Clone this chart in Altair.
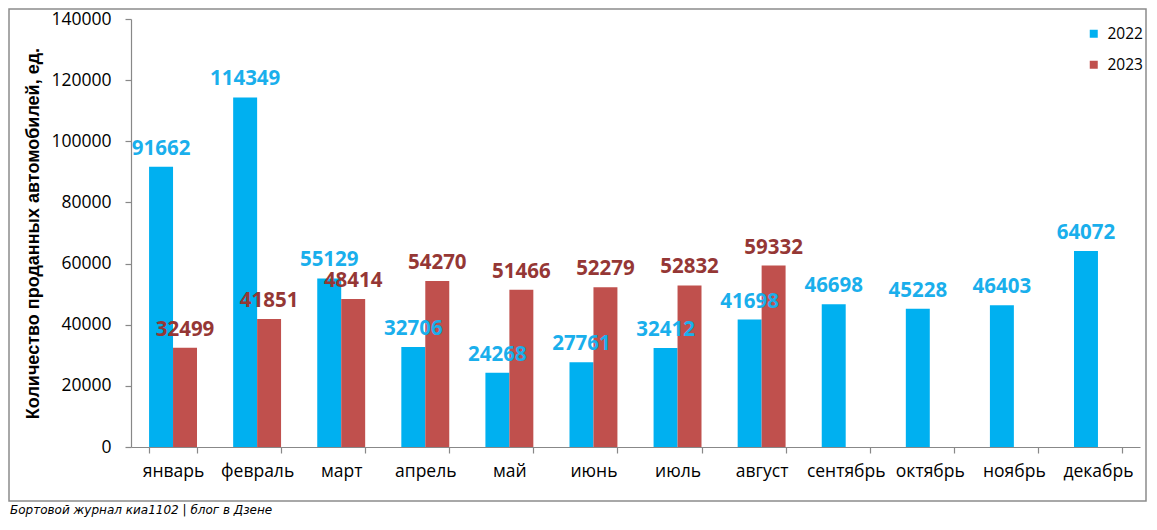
import altair as alt
import pandas as pd

months = ["январь", "февраль", "март", "апрель", "май", "июнь", "июль",
          "август", "сентябрь", "октябрь", "ноябрь", "декабрь"]
sales_2022 = [91662, 114349, 55129, 32706, 24268, 27761, 32412, 41698,
              46698, 45228, 46403, 64072]
sales_2023 = [32499, 41851, 48414, 54270, 51466, 52279, 52832, 59332]
years = ["2022", "2023"]
bar_colors = ["#00B0F0", "#C0504D"]
label_colors = ["#1AAFEC", "#953735"]
y_title = "Количество проданных  автомобилей, ед."
footer = "Бортовой журнал киа1102 | блог в Дзене"

rows = []
for m, v in zip(months, sales_2022):
    rows.append({"month": m, "year": "2022", "value": v})
for m, v in zip(months, sales_2023):
    rows.append({"month": m, "year": "2023", "value": v})
df = pd.DataFrame(rows)

W, H = 1009, 428

x_enc = alt.X(
    "month:N", sort=months,
    scale=alt.Scale(paddingInner=0.43, paddingOuter=0.215),
    axis=alt.Axis(title=None, labelAngle=0, tickBand="extent", tickSize=6,
                  labelPadding=9, labelFontSize=17.5, labelFont="Open Sans",
                  labelColor="#000000", domainColor="#888888", tickColor="#888888",
                  domainWidth=1.2, tickWidth=1.2),
)
xo_enc = alt.XOffset("year:N", scale=alt.Scale(domain=years, paddingInner=0, paddingOuter=0))
y_enc = alt.Y(
    "value:Q",
    scale=alt.Scale(domain=[0, 140000]),
    axis=alt.Axis(values=list(range(0, 140001, 20000)), format="d", grid=False,
                  title=y_title, titleFont="Liberation Sans", titleFontSize=18,
                  titleFontWeight="bold", titleColor="#000000", titlePadding=8,
                  labelFontSize=17.5, labelFont="Open Sans", labelColor="#000000",
                  labelPadding=14, tickSize=6, domainColor="#888888",
                  tickColor="#888888", domainWidth=1.2, tickWidth=1.2),
)

bars = alt.Chart(df).mark_bar().encode(
    x=x_enc, xOffset=xo_enc, y=y_enc,
    color=alt.Color("year:N", scale=alt.Scale(domain=years, range=bar_colors),
                    legend=alt.Legend(title=None, orient="none", legendX=955, legendY=7,
                                      symbolType="square", symbolSize=64,
                                      symbolStrokeWidth=0, labelFontSize=15.5,
                                      labelFont="Open Sans", labelColor="#000000",
                                      labelOffset=6, rowPadding=14, padding=0)),
)

label_layers = []
for yr, col in zip(years, label_colors):
    label_layers.append(
        alt.Chart(df).transform_filter(alt.datum.year == yr)
        .mark_text(font="Open Sans", fontSize=20.5, fontWeight="bold", color=col,
                   baseline="alphabetic", dy=-12)
        .encode(x=x_enc, xOffset=xo_enc, y=y_enc, text=alt.Text("value:Q", format="d"))
    )

frame = alt.Chart(pd.DataFrame({"k": [0]})).mark_rect(
    fill="transparent", stroke="#8C8C8C", strokeWidth=1.5
).encode(x=alt.value(-122), x2=alt.value(1015), y=alt.value(-10), y2=alt.value(482))

foot = alt.Chart(pd.DataFrame({"t": [footer]})).mark_text(
    align="left", baseline="middle", font="DejaVu Sans", fontStyle="italic",
    fontSize=12, color="#000000"
).encode(text="t:N", x=alt.value(-121), y=alt.value(491))

chart = alt.layer(frame, bars, *label_layers, foot).properties(
    width=W, height=H,
    autosize=alt.AutoSizeParams(type="none"),
    padding={"left": 123, "top": 11, "right": 9, "bottom": 70},
).configure_view(strokeWidth=0)

chart.save("out.html", embed_options={"renderer": "svg", "actions": False})
